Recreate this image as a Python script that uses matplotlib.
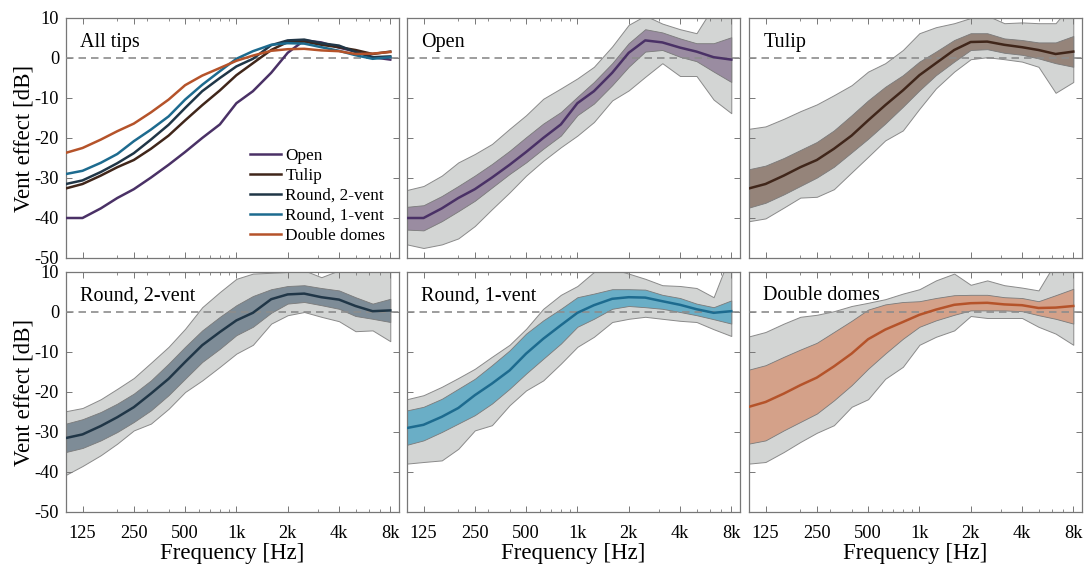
import matplotlib
matplotlib.use("Agg")
import matplotlib.pyplot as plt
import numpy as np
from matplotlib.ticker import FixedLocator, LogLocator, NullFormatter

plt.rcParams["font.family"] = ["Liberation Serif", "DejaVu Serif"]
plt.rcParams["axes.unicode_minus"] = False

# third-octave centre frequencies [Hz]
freqs = [100, 125, 160, 200, 250, 315, 400, 500, 630, 800,
         1000, 1250, 1600, 2000, 2500, 3150, 4000, 5000, 6300, 8000]

tip_names = ["Open", "Tulip", "Round, 2-vent", "Round, 1-vent", "Double domes"]

# mean vent effect [dB]
open_mean = [-40.0, -40.0, -37.6, -35.0, -32.8, -29.9, -26.7, -23.5, -20.0, -16.6,
             -11.3, -8.3, -3.7, 1.3, 4.4, 3.9, 2.6, 1.6, 0.2, -0.4]
tulip_mean = [-32.6, -31.5, -29.4, -27.3, -25.5, -22.7, -19.4, -15.6, -11.8, -8.1,
              -4.3, -1.3, 2.0, 4.0, 4.1, 3.3, 2.7, 2.0, 1.0, 1.6]
round2_mean = [-31.5, -30.6, -28.5, -26.3, -23.8, -20.4, -16.7, -12.5, -8.3, -5.0,
               -2.1, -0.2, 3.2, 4.4, 4.6, 3.7, 3.1, 1.5, 0.2, 0.4]
round1_mean = [-29.0, -28.2, -26.2, -24.0, -20.8, -17.9, -14.6, -10.4, -6.7, -3.3,
               -0.2, 1.7, 3.3, 3.7, 3.6, 2.7, 1.8, 0.7, -0.2, 0.2]
domes_mean = [-23.7, -22.5, -20.4, -18.3, -16.4, -13.6, -10.4, -6.8, -4.4, -2.5,
              -0.7, 0.6, 1.8, 2.2, 2.3, 1.9, 1.7, 1.0, 1.1, 1.5]

# inner band (dark) lower / upper [dB]
open_in_lo = [-42.9, -43.1, -40.8, -38.3, -35.7, -32.4, -29.0, -26.1, -22.7, -19.4,
              -14.3, -11.4, -6.8, -2.2, 1.6, 2.0, 0.3, -0.8, -3.4, -6.0]
open_in_hi = [-37.2, -36.8, -34.5, -32.0, -29.4, -26.5, -23.2, -19.8, -16.4, -13.5,
              -9.7, -6.0, -1.3, 3.7, 7.2, 6.4, 4.9, 3.7, 3.7, 5.2]
tulip_in_lo = [-37.4, -36.2, -34.1, -32.0, -29.9, -27.2, -23.6, -20.2, -16.4, -12.2,
               -8.1, -4.3, -0.9, 2.0, 2.2, 1.3, 0.8, -0.1, -1.3, -2.2]
tulip_in_hi = [-27.8, -26.9, -25.0, -23.0, -21.0, -18.1, -14.3, -10.6, -7.2, -4.3,
               -0.9, 1.6, 4.5, 6.2, 6.2, 4.9, 4.5, 3.9, 3.9, 5.5]
round2_in_lo = [-35.0, -34.0, -32.1, -30.0, -27.5, -24.6, -20.8, -16.7, -12.5, -9.2,
                -5.8, -3.7, -0.2, 2.1, 2.5, 1.7, 0.8, -1.0, -1.7, -2.5]
round2_in_hi = [-27.9, -26.8, -25.0, -22.9, -20.4, -17.1, -12.9, -8.7, -4.6, -1.2,
                1.7, 4.0, 5.7, 6.5, 6.7, 6.0, 5.4, 3.7, 2.1, 3.3]
round1_in_lo = [-33.2, -32.1, -30.0, -27.9, -25.8, -22.9, -19.2, -15.4, -11.7, -7.9,
                -3.7, -1.7, 0.8, 1.5, 1.2, 0.8, 0.0, -0.8, -1.8, -2.9]
round1_in_hi = [-24.6, -23.7, -21.7, -19.2, -16.7, -13.3, -9.6, -5.4, -2.1, 0.8,
                3.7, 4.6, 5.7, 5.7, 5.6, 4.3, 3.5, 2.1, 1.2, 2.9]
domes_in_lo = [-32.9, -32.1, -29.6, -27.5, -25.4, -22.1, -18.3, -14.2, -10.4, -6.7,
               -3.7, -2.1, -0.7, 0.4, 0.4, 0.4, 0.2, -0.8, -1.7, -2.9]
domes_in_hi = [-14.4, -13.3, -11.2, -9.4, -7.7, -5.0, -2.2, 0.6, 1.9, 2.5,
               2.7, 3.5, 4.2, 4.3, 4.3, 3.7, 3.5, 2.7, 4.2, 5.8]

# outer band (light grey) lower / upper [dB]
open_out_lo = [-46.6, -47.5, -46.6, -45.1, -42.0, -37.8, -33.6, -29.4, -25.7, -22.3,
               -19.4, -16.0, -10.6, -8.1, -4.7, -1.3, -4.5, -4.5, -10.4, -13.8]
open_out_hi = [-33.0, -32.0, -29.4, -26.1, -24.0, -21.5, -17.7, -14.3, -10.2, -7.6,
               -5.1, -2.2, 2.9, 8.3, 10.6, 8.6, 7.2, 6.2, 13.0, 15.0]
tulip_out_lo = [-40.8, -40.1, -37.4, -34.9, -34.7, -32.8, -28.6, -24.7, -20.6, -18.1,
                -12.7, -7.6, -3.4, -0.3, 0.2, -0.3, -0.9, -2.2, -8.7, -6.0]
tulip_out_hi = [-17.7, -17.1, -15.2, -13.3, -11.6, -9.3, -6.8, -3.4, -1.3, 2.0,
                6.2, 7.7, 8.7, 10.0, 10.6, 8.7, 8.9, 8.7, 8.7, 14.0]
round2_out_lo = [-40.7, -38.5, -35.8, -32.9, -29.6, -27.9, -24.2, -20.0, -17.1, -13.7,
                 -10.4, -8.2, -2.9, -0.8, 0.0, -1.2, -2.3, -4.8, -4.6, -7.3]
round2_out_hi = [-24.8, -24.0, -21.8, -19.2, -16.5, -12.7, -8.7, -4.2, 1.2, 5.0,
                 8.3, 9.6, 9.8, 10.0, 10.4, 8.7, 10.4, 11.7, 12.5, 13.3]
round1_out_lo = [-37.9, -37.5, -37.1, -34.2, -29.6, -28.3, -23.3, -19.6, -17.1, -12.9,
                 -8.7, -6.2, -2.5, -1.7, -1.2, -1.7, -2.2, -2.5, -4.3, -6.0]
round1_out_hi = [-21.8, -20.8, -18.7, -16.5, -14.2, -11.2, -8.2, -4.2, 0.8, 4.3,
                 6.5, 10.0, 10.8, 9.6, 8.3, 6.7, 6.5, 6.0, 3.7, 15.0]
domes_out_lo = [-37.9, -37.5, -35.0, -32.5, -30.2, -28.3, -23.7, -21.8, -16.7, -13.7,
                -8.2, -6.2, -4.6, -1.0, -1.5, -1.5, -1.5, -3.7, -5.4, -8.2]
domes_out_hi = [-6.1, -5.0, -2.9, -1.2, -0.7, 0.2, 1.5, 2.3, 3.2, 4.6,
                5.7, 7.9, 9.6, 6.8, 7.9, 6.7, 6.1, 5.4, 12.5, 15.0]

line_colors = ["#4a3166", "#40261a", "#203647", "#1d6b8f", "#b5532a"]
band_colors = ["#9a8ca1", "#95847a", "#7e8c97", "#6aaec6", "#d4a189"]
grey_band = "#d3d5d4"

means = [open_mean, tulip_mean, round2_mean, round1_mean, domes_mean]
inner = [(open_in_lo, open_in_hi), (tulip_in_lo, tulip_in_hi), (round2_in_lo, round2_in_hi),
         (round1_in_lo, round1_in_hi), (domes_in_lo, domes_in_hi)]
outer = [(open_out_lo, open_out_hi), (tulip_out_lo, tulip_out_hi), (round2_out_lo, round2_out_hi),
         (round1_out_lo, round1_out_hi), (domes_out_lo, domes_out_hi)]

W, H = 1089, 565
fig = plt.figure(figsize=(W / 100, H / 100), dpi=100)

col_left = [66, 407, 749]
col_w = 333
row_top = [18, 272]
row_h = 240

freq_ticks = [125, 250, 500, 1000, 2000, 4000, 8000]
freq_labels = ["125", "250", "500", "1k", "2k", "4k", "8k"]
spine_c = "#777777"


def setup_axes(ax, row, col):
    ax.set_xscale("log")
    ax.set_xlim(100, 9000)
    ax.set_ylim(-50, 10)
    ax.xaxis.set_major_locator(FixedLocator(freq_ticks))
    ax.xaxis.set_minor_locator(LogLocator(base=10, subs=np.arange(2, 10)))
    ax.xaxis.set_minor_formatter(NullFormatter())
    ax.set_yticks(np.arange(-50, 11, 10))
    ax.tick_params(which="both", direction="in", top=True, right=True,
                   color=spine_c, labelsize=13.2)
    ax.tick_params(axis="x", pad=9)
    ax.tick_params(axis="y", pad=5)
    ax.tick_params(which="major", length=4, width=0.7)
    ax.tick_params(which="minor", length=2.2, width=0.6)
    for s in ax.spines.values():
        s.set_color(spine_c)
        s.set_linewidth(0.9)
    ax.axhline(0, color="#8c8c8c", ls=(0, (4.5, 3)), lw=1.2, zorder=3)
    if row == 1:
        ax.set_xticklabels(freq_labels)
        ax.set_xlabel("Frequency [Hz]", fontsize=16.5, labelpad=1)
    else:
        ax.set_xticklabels([])
    if col == 0:
        ax.set_ylabel("Vent effect [dB]", fontsize=16.5, labelpad=0)
    else:
        ax.set_yticklabels([])


for k in range(6):
    row, col = divmod(k, 3)
    x0 = col_left[col] / W
    y0 = 1 - (row_top[row] + row_h) / H
    ax = fig.add_axes([x0, y0, col_w / W, row_h / H])
    setup_axes(ax, row, col)
    if k == 0:
        for name, m, c in zip(tip_names, means, line_colors):
            ax.plot(freqs, m, color=c, lw=1.8, label=name, zorder=4)
        ax.text(0.043, 0.9, "All tips", transform=ax.transAxes, fontsize=14.5,
                va="center", ha="left")
        ax.legend(loc="lower left", bbox_to_anchor=(0.553, 0.06), frameon=False,
                  fontsize=12.4, handlelength=1.8, handletextpad=0.25,
                  labelspacing=0.22, borderpad=0, borderaxespad=0)
    else:
        i = k - 1
        lo, hi = outer[i]
        ax.fill_between(freqs, lo, hi, facecolor=grey_band, edgecolor="#8a8a8a",
                        lw=0.7, zorder=1)
        lo, hi = inner[i]
        ax.fill_between(freqs, lo, hi, facecolor=band_colors[i], edgecolor="#7a7a7a",
                        lw=0.6, zorder=2)
        ax.plot(freqs, means[i], color=line_colors[i], lw=1.8, zorder=4)
        ax.text(0.043, 0.9, tip_names[i], transform=ax.transAxes, fontsize=14.5,
                va="center", ha="left", zorder=5)

fig.savefig("out.png", dpi=100)
